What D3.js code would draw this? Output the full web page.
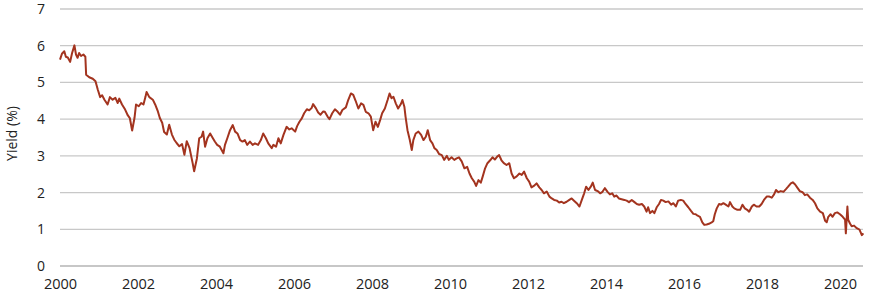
<!DOCTYPE html>
<html>
<head>
<meta charset="utf-8">
<script src="https://cdn.jsdelivr.net/npm/d3@7"></script>
<style>
  html, body { margin: 0; padding: 0; background: #ffffff; }
  svg { display: block; }
  text { font-family: "Open Sans", "Noto Sans", sans-serif; fill: #222; }
</style>
</head>
<body>
<svg id="chart" width="880" height="303"></svg>
<script>
// Decimal-year dates and yields (%)
const years = [
  2000.00,2000.05,2000.11,2000.15,2000.20,2000.26,2000.31,2000.37,2000.41,2000.45,
  2000.49,2000.54,2000.60,2000.65,2000.67,2000.75,2000.84,2000.91,2000.97,2001.03,
  2001.08,2001.14,2001.22,2001.28,2001.35,2001.42,2001.48,2001.52,2001.59,2001.67,
  2001.74,2001.79,2001.85,2001.91,2001.95,2002.02,2002.08,2002.14,2002.19,2002.22,
  2002.29,2002.38,2002.44,2002.51,2002.56,2002.62,2002.67,2002.74,2002.80,2002.87,
  2002.93,2002.99,2003.06,2003.13,2003.19,2003.25,2003.32,2003.40,2003.44,
  2003.51,2003.57,2003.63,2003.67,2003.72,2003.78,2003.85,2003.92,2003.97,2004.03,
  2004.10,2004.19,2004.23,2004.29,2004.36,2004.43,2004.49,2004.55,2004.62,2004.68,
  2004.74,2004.80,2004.87,2004.94,2005.00,2005.08,2005.15,2005.21,2005.28,2005.34,
  2005.43,2005.47,2005.54,2005.60,2005.66,2005.73,2005.81,2005.88,2005.94,2006.03,
  2006.08,2006.14,2006.20,2006.26,2006.33,2006.39,2006.45,2006.49,2006.56,2006.62,
  2006.68,2006.75,
  2006.79,2006.86,2006.91,2006.98,2007.05,2007.12,2007.18,2007.24,2007.33,2007.39,
  2007.46,2007.52,2007.58,2007.65,2007.72,2007.78,2007.84,2007.91,2007.97,2008.03,
  2008.09,2008.15,2008.21,2008.26,2008.33,2008.40,2008.45,2008.50,2008.55,2008.61,
  2008.67,2008.74,2008.78,2008.83,2008.86,2008.91,2008.97,2009.02,2009.06,2009.12,
  2009.19,2009.26,2009.32,2009.38,2009.43,2009.49,2009.55,2009.60,2009.66,2009.72,
  2009.79,2009.85,2009.92,2009.97,2010.04,2010.11,2010.17,2010.23,2010.30,2010.37,
  2010.44,2010.50,2010.56,2010.62,2010.67,2010.73,2010.79,2010.84,2010.90,2010.96,
  2011.03,2011.09,2011.15,2011.21,2011.26,2011.32,2011.38,2011.45,2011.52,2011.58,
  2011.64,2011.71,2011.78,2011.84,2011.90,2011.97,2012.03,2012.09,2012.15,2012.22,
  2012.29,2012.35,2012.41,2012.48,2012.55,2012.61,2012.67,2012.74,2012.80,2012.86,
  2012.92,2012.99,2013.06,2013.12,2013.18,2013.25,2013.32,2013.38,2013.44,2013.49,
  2013.55,2013.61,2013.66,2013.72,2013.80,
  2013.85,2013.91,2013.97,2014.04,2014.10,2014.16,2014.21,2014.27,2014.33,2014.40,
  2014.47,2014.53,2014.59,2014.66,2014.73,2014.79,2014.85,2014.92,2014.98,2015.04,
  2015.08,2015.13,2015.19,2015.24,2015.30,2015.36,2015.41,2015.47,2015.53,2015.60,
  2015.67,2015.73,2015.79,2015.85,2015.92,2015.98,2016.04,2016.11,2016.18,2016.24,
  2016.30,2016.35,2016.41,2016.47,2016.52,2016.58,2016.64,2016.71,2016.75,2016.79,
  2016.84,2016.90,2016.95,2017.01,2017.07,2017.14,2017.18,2017.24,2017.29,
  2017.37,2017.44,2017.50,2017.56,2017.62,2017.67,2017.74,2017.79,2017.86,2017.93,
  2017.99,2018.05,2018.12,2018.19,2018.25,2018.31,2018.36,2018.42,2018.48,2018.55,
  2018.62,2018.67,2018.74,2018.79,2018.85,2018.91,2018.97,2019.04,2019.10,2019.16,
  2019.23,2019.30,2019.36,2019.42,2019.49,2019.56,2019.62,2019.66,2019.70,2019.76,
  2019.81,2019.87,2019.93,2020.00,2020.07,2020.13,2020.15,2020.19,2020.21,2020.26,
  2020.30,2020.36,2020.43,2020.50,2020.56,2020.60
];
const yields = [
  5.62,5.78,5.85,5.70,5.68,5.56,5.80,6.01,5.76,5.67,
  5.80,5.72,5.76,5.70,5.21,5.14,5.10,5.03,4.80,4.60,
  4.65,4.53,4.40,4.60,4.53,4.58,4.44,4.56,4.40,4.26,
  4.10,4.03,3.69,4.03,4.40,4.35,4.44,4.40,4.60,4.74,
  4.60,4.53,4.40,4.21,4.03,3.90,3.65,3.58,3.85,3.58,
  3.44,3.35,3.26,3.32,3.03,3.40,3.22,2.81,2.58,
  2.93,3.48,3.52,3.66,3.25,3.48,3.61,3.48,3.39,3.30,
  3.25,3.07,3.30,3.48,3.70,3.84,3.66,3.61,3.43,3.39,
  3.43,3.30,3.39,3.30,3.34,3.30,3.43,3.61,3.48,3.34,
  3.21,3.30,3.25,3.48,3.34,3.57,3.79,3.72,3.75,3.66,
  3.81,3.93,4.02,4.16,4.27,4.24,4.30,4.41,4.30,4.18,
  4.12,4.21,
  4.20,4.07,4.00,4.16,4.27,4.20,4.12,4.25,4.32,4.52,
  4.70,4.66,4.50,4.29,4.43,4.39,4.20,4.16,4.07,3.70,
  3.93,3.79,3.98,4.16,4.29,4.52,4.70,4.57,4.61,4.43,
  4.29,4.41,4.52,4.34,4.07,3.70,3.43,3.16,3.43,3.61,
  3.66,3.57,3.43,3.52,3.70,3.43,3.34,3.21,3.16,3.05,
  3.02,2.89,3.00,2.89,2.96,2.89,2.93,2.96,2.85,2.66,
  2.70,2.52,2.39,2.30,2.18,2.34,2.27,2.44,2.66,2.80,
  2.88,2.96,2.90,2.98,3.02,2.88,2.80,2.75,2.80,2.52,
  2.39,2.44,2.52,2.48,2.57,2.39,2.30,2.14,2.18,2.25,
  2.14,2.07,1.98,2.03,1.89,1.84,1.80,1.78,1.73,1.75,
  1.71,1.75,1.80,1.84,1.78,1.71,1.62,1.80,1.98,2.16,
  2.07,2.16,2.27,2.07,2.03,
  1.98,2.02,2.12,2.02,1.95,1.98,1.89,1.92,1.84,1.82,
  1.80,1.78,1.74,1.80,1.74,1.69,1.67,1.69,1.62,1.48,
  1.60,1.44,1.50,1.44,1.60,1.69,1.80,1.78,1.74,1.76,
  1.67,1.71,1.62,1.78,1.80,1.78,1.69,1.60,1.50,1.42,
  1.41,1.37,1.34,1.19,1.12,1.13,1.15,1.19,1.22,1.41,
  1.57,1.69,1.67,1.71,1.67,1.62,1.74,1.62,1.57,
  1.53,1.53,1.67,1.57,1.53,1.48,1.62,1.67,1.62,1.62,
  1.69,1.80,1.89,1.89,1.86,1.95,2.07,2.01,2.04,2.02,
  2.10,2.16,2.25,2.28,2.22,2.13,2.04,2.01,1.93,1.95,
  1.86,1.80,1.71,1.57,1.48,1.44,1.23,1.19,1.34,1.41,
  1.34,1.44,1.46,1.41,1.34,1.26,0.89,1.62,1.26,1.15,
  1.08,1.10,1.03,0.99,0.84,0.89
];
const xTickLabels = [2000, 2002, 2004, 2006, 2008, 2010, 2012, 2014, 2016, 2018, 2020];
const yTickLabels = [0, 1, 2, 3, 4, 5, 6, 7];
const yAxisTitle = "Yield (%)";

const svg = d3.select("#chart");
const mLeft = 60, mRight = 863, mTop = 9, mBottom = 266;
const fontStack = "'Open Sans', 'Noto Sans', sans-serif";

const x = d3.scaleLinear().domain([2000, 2020.59]).range([mLeft, mRight]);
const y = d3.scaleLinear().domain([0, 7]).range([mBottom, mTop]);

// Gridlines
svg.append("g")
  .selectAll("line")
  .data(yTickLabels)
  .join("line")
  .attr("x1", mLeft).attr("x2", mRight)
  .attr("y1", d => y(d)).attr("y2", d => y(d))
  .attr("stroke", d => d === 0 ? "#b4b4b4" : "#c8c8c8")
  .attr("stroke-width", 1.3);

// Y axis
const yAxis = d3.axisLeft(y).tickValues(yTickLabels).tickSize(0).tickPadding(15).tickFormat(d3.format("d"));
const gy = svg.append("g").attr("transform", `translate(${mLeft},0)`).call(yAxis);
gy.select(".domain").remove();
gy.selectAll("text").style("font-size", "14px").style("font-family", fontStack).attr("fill", "#222");

// X axis
const xAxis = d3.axisBottom(x).tickValues(xTickLabels).tickSize(0).tickPadding(13).tickFormat(d3.format("d"));
const gx = svg.append("g").attr("transform", `translate(0,${mBottom})`).call(xAxis);
gx.select(".domain").remove();
gx.selectAll("text").style("font-size", "14.5px").style("font-family", fontStack).attr("fill", "#222");

// Y axis title
svg.append("text")
  .attr("transform", `translate(17,${(mTop + mBottom) / 2 - 4}) rotate(-90)`)
  .attr("text-anchor", "middle")
  .style("font-size", "14px")
  .style("font-family", fontStack)
  .text(yAxisTitle);

// Line
const data = years.map((yr, i) => ({ yr, v: yields[i] }));
const line = d3.line().x(d => x(d.yr)).y(d => y(d.v));
svg.append("path")
  .datum(data)
  .attr("fill", "none")
  .attr("stroke", "#a3341f")
  .attr("stroke-width", 2)
  .attr("stroke-linejoin", "round")
  .attr("d", line);
</script>
</body>
</html>
